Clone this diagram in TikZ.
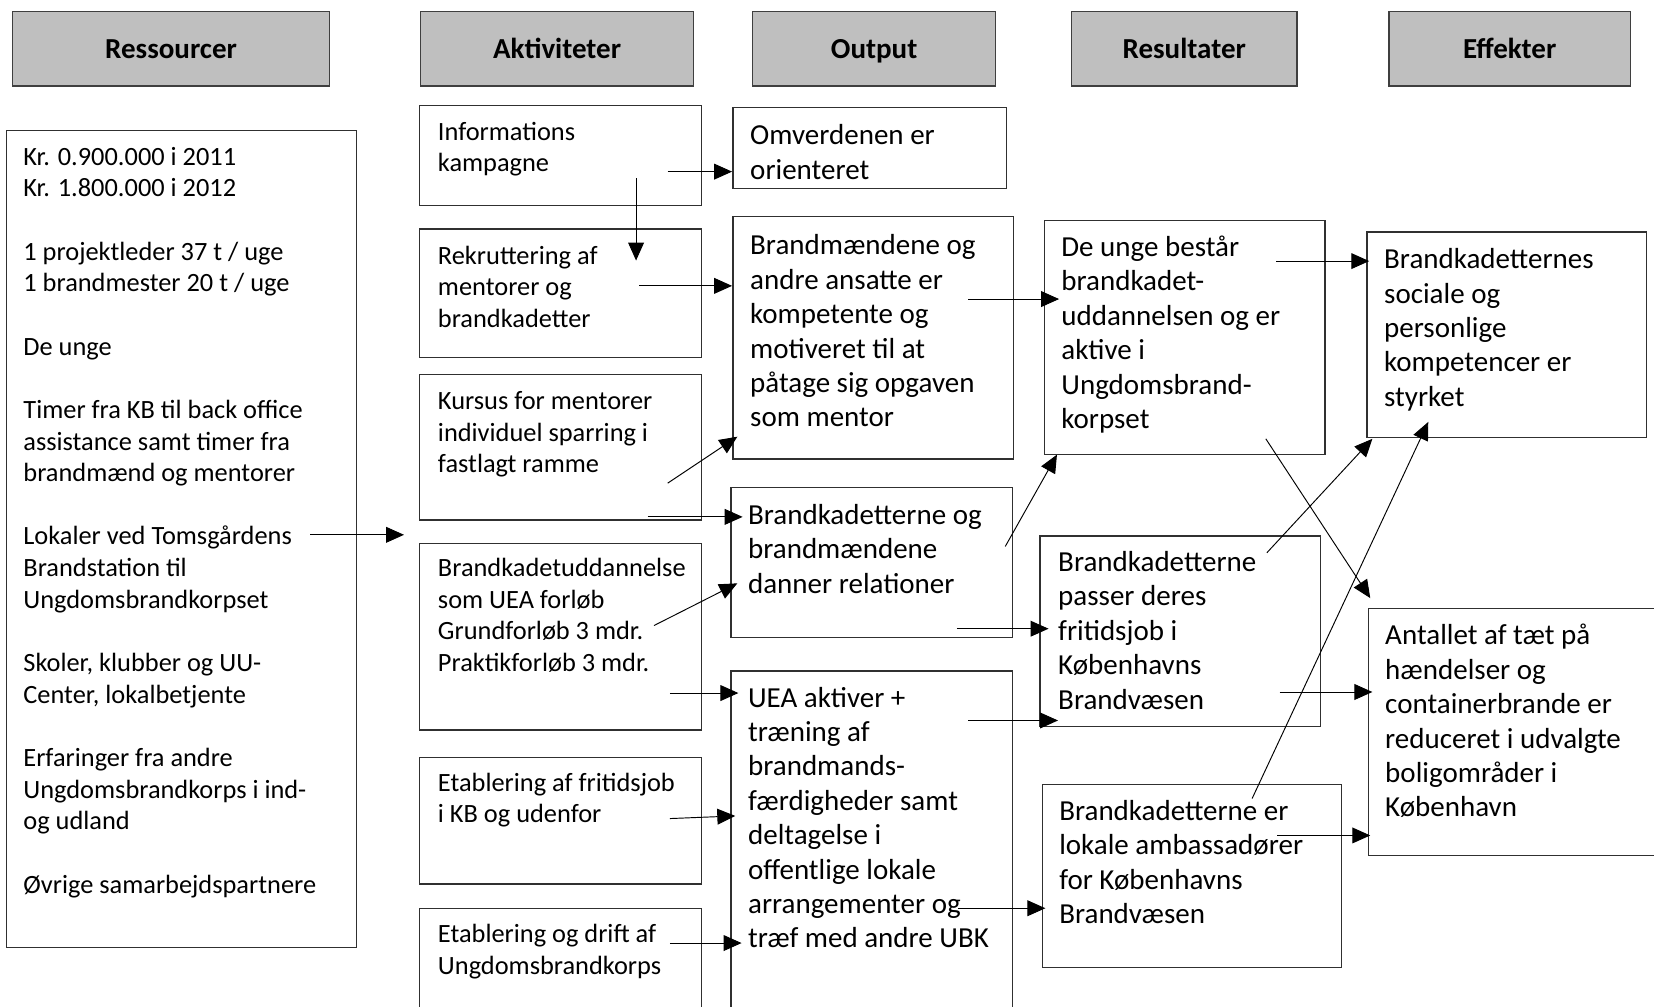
\documentclass[tikz,border=0pt]{standalone}
\usepackage{fontspec}
\setmainfont{Carlito}
\usetikzlibrary{arrows.meta,fit}
\definecolor{hdrfill}{HTML}{BFBFBF}
\definecolor{hdrline}{HTML}{3F3F3F}
\definecolor{boxline}{HTML}{303030}
\newcommand\sstr{\rule{0pt}{22pt}}
\newcommand\bstr{\rule{0pt}{24pt}}
\begin{document}
\begin{tikzpicture}[x=1pt,y=-1pt,
 hdr/.style={draw=hdrline, fill=hdrfill, line width=1.3pt, inner sep=0pt, anchor=north west,
   minimum height=71pt,
   font=\fontsize{27.5}{33}\selectfont\bfseries, text height=17.7pt, text depth=0pt},
 frame/.style={draw=boxline, line width=1.2pt, inner sep=0pt},
 stxt/.style={anchor=north west, inner sep=0pt, align=left, font=\fontsize{25}{30}\selectfont},
 btxt/.style={anchor=north west, inner sep=0pt, align=left, font=\fontsize{27.5}{32.6}\selectfont},
 arr/.style={draw=black, line width=0.9pt, -{Triangle[length=17pt,width=15pt]}}]

\fill[white] (0,0) rectangle (1568,954);
\useasboundingbox (0,0) rectangle (1568,954);

% headers
\node[hdr, minimum width=301pt] (h1) at (11,10) {Ressourcer};
\node[hdr, minimum width=259pt] (h2) at (398,10) {Aktiviteter};
\node[hdr, minimum width=230pt] (h3) at (713,10) {Output};
\node[hdr, minimum width=214pt] (h4) at (1015,10) {Resultater};
\node[hdr, minimum width=229pt] (h5) at (1316,10) {Effekter};

% frames
\node[frame, fit={(6,124)(338,898)}] (L) {};
\node[frame, fit={(398,100)(665,195)}] (A1) {};
\node[frame, fit={(398,217)(665,339)}] (A2) {};
\node[frame, fit={(398,355)(665,493)}] (A3) {};
\node[frame, fit={(398,515)(665,692)}] (A4) {};
\node[frame, fit={(398,718)(665,838)}] (A5) {};
\node[frame, fit={(398,861)(665,970)}] (A6) {};
\node[frame, fit={(695,102)(954,179)}] (O1) {};
\node[frame, fit={(695,205)(961,435)}] (O2) {};
\node[frame, fit={(693,462)(960,604)}] (O3) {};
\node[frame, fit={(693,636)(960,970)}] (O4) {};
\node[frame, fit={(990,209)(1256,431)}] (R1) {};
\node[frame, fit={(986,508)(1252,689)}] (R2) {};
\node[frame, fit={(988,744)(1272,917)}] (R3) {};
\node[frame, fit={(1296,220)(1561,415)}] (E1) {};
\node[frame, fit={(1297,577)(1580,811)}] (E2) {};

% texts
\node[stxt] (Lt) at (22,134.4) {\sstr Kr. 0.900.000 i 2011\\
Kr. 1.800.000 i 2012\\[30pt]
1 projektleder 37 t / uge\\
1 brandmester 20 t / uge\\[30pt]
De unge\\[30pt]
Timer fra KB til back office\\
assistance samt timer fra\\
brandmænd og mentorer\\[30pt]
Lokaler ved Tomsgårdens\\
Brandstation til\\
Ungdomsbrandkorpset\\[30pt]
Skoler, klubber og UU-\\
Center, lokalbetjente\\[30pt]
Erfaringer fra andre\\
Ungdomsbrandkorps i ind-\\
og udland\\[30pt]
Øvrige samarbejdspartnere};

\node[stxt] (A1t) at (415,110.7) {\sstr Informations\\kampagne};
\node[stxt] (A2t) at (415,228.2) {\sstr Rekruttering af\\mentorer og\\brandkadetter};
\node[stxt] (A3t) at (415,366) {\sstr Kursus for mentorer\\individuel sparring i\\fastlagt ramme};
\node[stxt] (A4t) at (415,524.3) {\sstr Brandkadetuddannelse\\som UEA forløb\\Grundforløb 3 mdr.\\Praktikforløb 3 mdr.};
\node[stxt] (A5t) at (415,727.8) {\sstr Etablering af fritidsjob\\i KB og udenfor};
\node[stxt] (A6t) at (415,871.6) {\sstr Etablering og drift af\\Ungdomsbrandkorps};

\node[btxt] (O1t) at (711,113.2) {\bstr Omverdenen er\\orienteret};
\node[btxt] (O2t) at (711,217.4) {\bstr Brandmændene og\\andre ansatte er\\kompetente og\\motiveret til at\\påtage sig opgaven\\som mentor};
\node[btxt] (O3t) at (709,473) {\bstr Brandkadetterne og\\brandmændene\\danner relationer};
\node[btxt] (O4t) at (709,646.2) {\bstr UEA aktiver +\\træning af\\brandmands-\\færdigheder samt\\deltagelse i\\offentlige lokale\\arrangementer og\\træf med andre UBK};

\node[btxt] (R1t) at (1006,219) {\bstr De unge består\\brandkadet-\\uddannelsen og er\\aktive i\\Ungdomsbrand-\\korpset};
\node[btxt] (R2t) at (1003,517.6) {\bstr Brandkadetterne\\passer deres\\fritidsjob i\\Københavns\\Brandvæsen};
\node[btxt] (R3t) at (1004,753.4) {\bstr Brandkadetterne er\\lokale ambassadører\\for Københavns\\Brandvæsen};

\node[btxt] (E1t) at (1312,230.6) {\bstr Brandkadetternes\\sociale og\\personlige\\kompetencer er\\styrket};
\node[btxt] (E2t) at (1313,587.2) {\bstr Antallet af tæt på\\hændelser og\\containerbrande er\\reduceret i udvalgte\\boligområder i\\København};

% connector end points
\coordinate (s0) at (294,507); \coordinate (t0) at (383,507);
\coordinate (s1) at (633,162.7); \coordinate (t1) at (694,162.7);
\coordinate (s2) at (603,169); \coordinate (t2) at (603,247);
\coordinate (s3) at (606,271); \coordinate (t3) at (694,271);
\coordinate (s4) at (633,458); \coordinate (t4) at (699,414);
\coordinate (s5) at (614,490); \coordinate (t5) at (704,490);
\coordinate (s6) at (620,593); \coordinate (t6) at (699,553);
\coordinate (s7) at (635,657); \coordinate (t7) at (700,657);
\coordinate (s8) at (635,776); \coordinate (t8) at (697,773.5);
\coordinate (s9) at (635,894); \coordinate (t9) at (703,894);
\coordinate (s10) at (918,283.5); \coordinate (t10) at (1004,283.5);
\coordinate (s11) at (953,518); \coordinate (t11) at (1002,431);
\coordinate (s12) at (907,596); \coordinate (t12) at (994,596);
\coordinate (s13) at (918,683); \coordinate (t13) at (1003,683);
\coordinate (s14) at (908,861); \coordinate (t14) at (991,861);
\coordinate (s15) at (1210,247.5); \coordinate (t15) at (1298,247.5);
\coordinate (s16) at (1200,416); \coordinate (t16) at (1299,567);
\coordinate (s17) at (1201,524); \coordinate (t17) at (1301,416);
\coordinate (s18) at (1187,757); \coordinate (t18) at (1354,400);
\coordinate (s19) at (1213,656); \coordinate (t19) at (1301,656);
\coordinate (s20) at (1211,792); \coordinate (t20) at (1299,792);

\foreach \i in {0,...,20} {\draw[arr] (s\i) -- (t\i);}
\end{tikzpicture}
\end{document}
